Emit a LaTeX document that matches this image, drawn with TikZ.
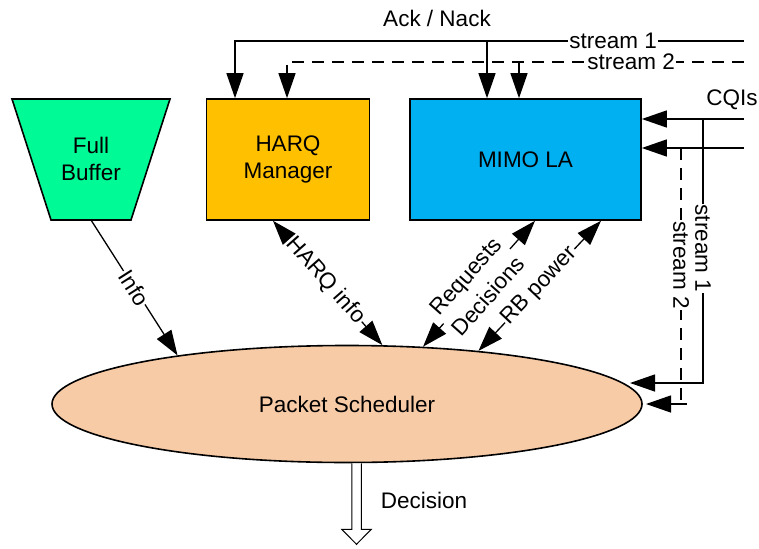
\documentclass[tikz,border=0pt]{standalone}
\usepackage{fontspec}
\setmainfont{Liberation Sans}
\usetikzlibrary{arrows.meta,shapes.geometric}
\definecolor{fbgreen}{RGB}{0,250,150}
\definecolor{harqorange}{RGB}{255,192,0}
\definecolor{mimoblue}{RGB}{0,176,240}
\definecolor{pspeach}{RGB}{248,203,167}
\begin{document}
\begin{tikzpicture}[x=1pt,y=-1pt,
  txt/.style={font=\fontsize{22.5}{27}\selectfont},
  box/.style={draw=black, line width=1.6pt, minimum height=121pt, align=center, txt, inner sep=0pt},
  conn/.style={line width=1.3pt, -{Triangle[length=25pt,width=17pt]}},
  biconn/.style={line width=1.3pt, {Triangle[length=25pt,width=17pt]}-{Triangle[length=25pt,width=17pt]}},
  plain/.style={line width=1.3pt},
  lbl/.style={txt, fill=white, inner sep=1pt},
  dsh/.style={dash pattern=on 12pt off 8pt}
]
\useasboundingbox (0,0) rectangle (759,548);
\fill[white] (0,0) rectangle (759,548);

% Full Buffer
\draw[fill=fbgreen, line width=1.6pt] (12,99) -- (170,99) -- (131,220) -- (51,220) -- cycle;
\node[txt, align=center] (fb) at (91,159) {Full\\Buffer};
\coordinate (fbb) at (91,220);

% boxes
\node[box, fill=harqorange, minimum width=163pt] (hm) at (288,159.5) {HARQ\\Manager};
\node[box, fill=mimoblue, minimum width=231pt] (mimo) at (525.5,159.5) {MIMO LA};

% Packet scheduler
\node[draw, ellipse, fill=pspeach, line width=1.6pt, minimum width=590pt, minimum height=117pt, txt, inner sep=0pt] (ps) at (347,404) {Packet Scheduler};

% connectors to scheduler
\draw[conn] (fbb) -- node[lbl, sloped, pos=0.5] {Info} (ps.164);
\draw[biconn] ([xshift=-15pt]hm.south) -- node[lbl, sloped, pos=0.48] {HARQ info} (ps.59);
\draw[biconn] (ps.37) -- node[lbl, sloped, pos=0.48, align=center] {Requests\\[3pt]Decisions} ([xshift=9.5pt]mimo.south);
\draw[biconn] (ps.22) -- node[lbl, sloped, pos=0.5] {RB power} ([xshift=75.5pt]mimo.south);

% Ack / Nack
\node[txt] (ack) at (437,18) {Ack / Nack};
\coordinate (s1r) at (744,41);
\coordinate (s2r) at (744,62);
\coordinate (hmA) at ([xshift=-53pt]hm.north);
\coordinate (hmB) at ([xshift=-1pt]hm.north);
\coordinate (miA) at ([xshift=-38.5pt]mimo.north);
\coordinate (miB) at ([xshift=-6.5pt]mimo.north);
\draw[conn] (s1r) -- node[lbl, pos=0.257] {stream 1} (hmA |- s1r) -- (hmA);
\draw[conn] (miA |- s1r) -- (miA);
\draw[conn, dsh] (s2r) -- node[lbl, pos=0.247] {stream 2} (hmB |- s2r) -- (hmB);
\draw[conn, dsh] (miB |- s2r) -- (miB);

% CQIs
\node[txt] (cqi) at (732,100) {CQIs};
\coordinate (c1) at (744,119);
\coordinate (c2) at (744,148);
\draw[conn] (c1) -- (c1 -| mimo.east);
\draw[conn] (c2) -- (c2 -| mimo.east);
\coordinate (v1) at (703,119);
\coordinate (p1) at (630,383);
\draw[conn] (v1) -- node[lbl, rotate=-90, pos=0.49] {stream 1} (v1 |- p1) -- (p1);
\coordinate (v2) at (681,148);
\coordinate (p2) at (646,404);
\coordinate (p2r) at (687,404);
\draw[plain, dsh] (v2) -- node[lbl, rotate=-90, pos=0.457] {stream 2} (v2 |- p2);
\draw[conn] (p2r) -- (p2);

% Decision
\coordinate (dtop) at ([xshift=9.5pt]ps.south);
\draw[line width=1pt, fill=white] (dtop) ++(-4.75,0) -- ++(0,66) -- ++(-10,0) -- ++(14.75,15) -- ++(14.75,-15) -- ++(-10,0) -- ++(0,-66);
\node[txt] (dec) at (424,500) {Decision};
\end{tikzpicture}
\end{document}
